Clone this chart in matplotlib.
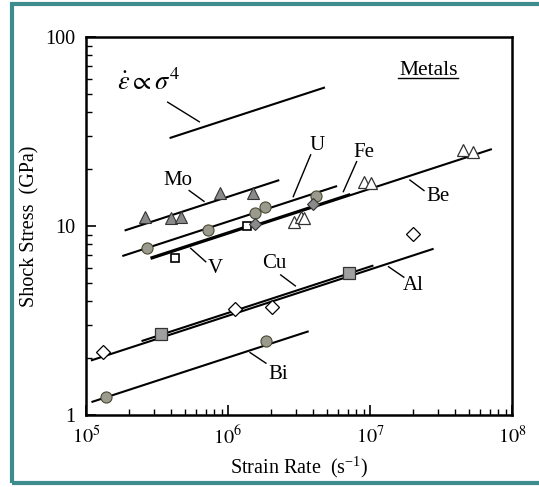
import matplotlib.pyplot as plt
from matplotlib.patches import Rectangle
import numpy as np

plt.rcParams['font.family'] = ['Liberation Serif', 'DejaVu Serif']
plt.rcParams['mathtext.fontset'] = 'stix'

# data points (strain rate s^-1, shock stress GPa)
mo_x = [2.6e5, 3.97e5, 4.67e5, 8.8e5, 1.5e6]
mo_y = [11.2, 11.0, 11.2, 15.0, 15.0]
u_x = [2.7e5, 7.27e5, 1.56e6, 1.83e6, 4.17e6]
u_y = [7.62, 9.5, 11.7, 12.6, 14.4]
v_x = [4.24e5, 1.36e6]
v_y = [6.75, 10.0]
fe_x = [1.56e6, 3.94e6]
fe_y = [10.3, 13.1]
be_x = [2.93e6, 3.27e6, 3.45e6, 9.1e6, 1.02e7, 4.5e7, 5.29e7]
be_y = [10.5, 11.2, 11.0, 17.1, 16.8, 25.2, 24.7]
al_x = [1.31e5, 1.12e6, 2.03e6, 2.02e7]
al_y = [2.15, 3.62, 3.71, 9.04]
cu_x = [3.37e5, 7.14e6]
cu_y = [2.67, 5.66]
bi_x = [1.38e5, 1.85e6]
bi_y = [1.25, 2.47]

# fitted lines: x range, stress at start, slope 1/4 in log-log
fit_names = ['law', 'Mo', 'U', 'V', 'Fe', 'Be', 'Cu', 'Al', 'Bi']
fit_x0 = [3.94e5, 1.9e5, 1.83e5, 2.92e5, 1.51e6, 1.51e6, 2.5e5, 1.1e5, 1.11e5]
fit_x1 = [4.74e6, 2.26e6, 5.77e6, 1.36e6, 7.14e6, 7.1e7, 1.04e7, 2.76e7, 3.64e6]
fit_y0 = [29.3, 9.5, 6.96, 6.79, 10.05, 9.9, 2.47, 1.95, 1.175]
slope = 0.245

# labels and leader lines
lab_text = ['Mo', 'U', 'Fe', 'Be', 'V', 'Cu', 'Al', 'Bi']
lab_x = [4.45e5, 4.22e6, 9.12e6, 3.0e7, 8.1e5, 2.11e6, 2.02e7, 2.24e6]
lab_y = [17.5, 26.8, 24.4, 14.3, 5.97, 6.35, 4.82, 1.64]
lead_x0 = [5.33e5, 3.82e6, 8.05e6, 1.91e7, 5.46e5, 2.35e6, 1.35e7, 1.43e6, 3.76e5]
lead_y0 = [15.4, 23.8, 21.9, 17.5, 7.62, 5.51, 6.09, 2.14, 45.2]
lead_x1 = [6.78e5, 2.88e6, 6.49e6, 2.40e7, 6.97e5, 2.98e6, 1.73e7, 1.85e6, 6.28e5]
lead_y1 = [13.5, 14.3, 15.2, 15.4, 6.47, 4.82, 5.36, 1.88, 35.6]

fig = plt.figure(figsize=(5.39, 4.87), dpi=100)
fig.patches.append(Rectangle((12/539, 4/487), 1.0, 479/487, transform=fig.transFigure,
                             fill=False, edgecolor='#3f8c8f', linewidth=3, zorder=0))
ax = fig.add_axes([86/539, 72/487, 426/539, 378/487])

for name, x0, x1, y0 in zip(fit_names, fit_x0, fit_x1, fit_y0):
    xs = np.array([x0, x1])
    ys = y0 * (xs / x0) ** slope
    lw = 2.4 if name == 'V' else 1.5
    ax.plot(xs, ys, color='black', lw=lw, zorder=2)

for x0, y0, x1, y1 in zip(lead_x0, lead_y0, lead_x1, lead_y1):
    ax.plot([x0, x1], [y0, y1], color='black', lw=1.0)

ax.plot(mo_x, mo_y, '^', ms=8, mfc='#8a8a8a', mec='#333333', mew=0.8, zorder=3)
ax.plot(u_x, u_y, 'o', ms=8, mfc='#9a9a8e', mec='#4a4a30', mew=0.8, zorder=3)
ax.plot(v_x, v_y, 's', ms=6, mfc='white', mec='black', mew=1.2, zorder=3)
ax.plot(fe_x, fe_y, 'D', ms=6, mfc='#8a8a8a', mec='#333333', mew=0.8, zorder=3)
ax.plot(be_x, be_y, '^', ms=9, mfc='white', mec='#333333', mew=0.9, zorder=3)
ax.plot(al_x, al_y, 'D', ms=7, mfc='white', mec='black', mew=0.9, zorder=3)
ax.plot(cu_x, cu_y, 's', ms=8, mfc='#a0a0a0', mec='#333333', mew=0.9, zorder=3)
ax.plot(bi_x, bi_y, 'o', ms=8, mfc='#9a9a8e', mec='#4a4a30', mew=0.8, zorder=3)

for t, x, y in zip(lab_text, lab_x, lab_y):
    ax.text(x, y, t, fontsize=15, ha='center', va='center')
ax.text(2.58e7, 66.3, 'Metals', fontsize=15.5, ha='center', va='center')
ax.plot([1.57e7, 4.17e7], [60.7, 60.7], color='black', lw=1.0)
ax.text(2.75e5, 58, r'$\dot{\varepsilon}\propto\sigma^4$', fontsize=19, ha='center', va='center')

ax.set_xscale('log')
ax.set_yscale('log')
ax.set_xlim(1e5, 1e8)
ax.set_ylim(1, 100)
ax.set_xticks([1e5, 1e6, 1e7, 1e8])
ax.set_xticklabels([r'$10^5$', r'$10^6$', r'$10^7$', r'$10^8$'])
ax.set_yticks([1, 10, 100])
ax.set_yticklabels(['1', '10', '100'])
ax.tick_params(which='both', direction='in', top=False, right=False, labelsize=14.5)
ax.tick_params(which='major', length=7, width=1.2, pad=8)
ax.tick_params(which='minor', length=4, width=1.0)
for s in ax.spines.values():
    s.set_linewidth(1.8)
ax.set_xlabel(r'Strain Rate  (s$^{\mathregular{-1}}$)', fontsize=14.5, labelpad=4)
ax.set_ylabel('Shock Stress  (GPa)', fontsize=14.5, labelpad=4)

fig.savefig('out.png', dpi=100)
